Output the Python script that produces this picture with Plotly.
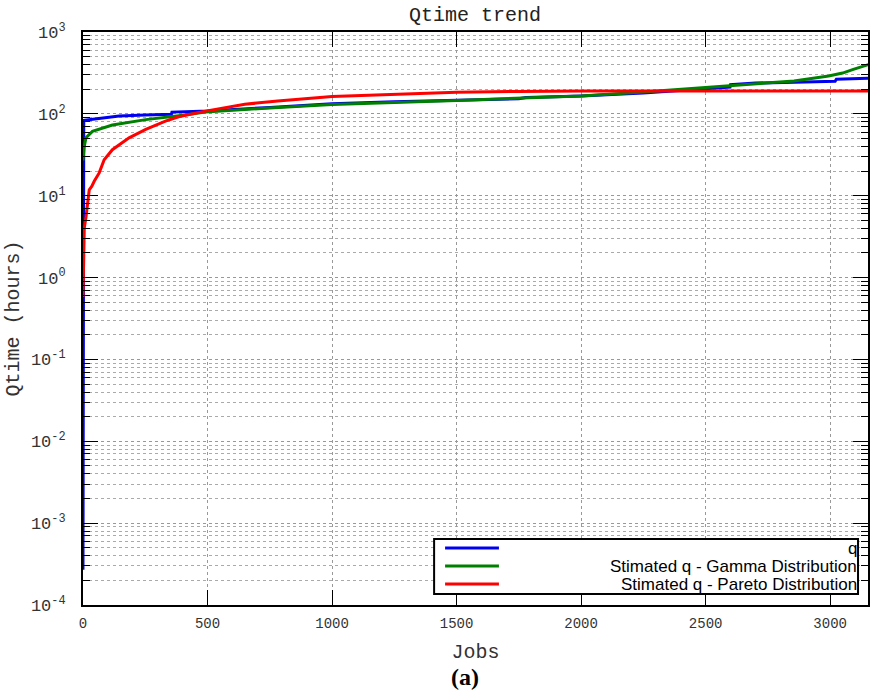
import plotly.graph_objects as go

# ---------------- data ----------------
q_jobs = [0, 1, 3, 15, 40, 80, 145, 250, 355, 357, 500, 750, 1000, 1250, 1500,
          1750, 1778, 2000, 2250, 2450, 2598, 2600, 2700, 2900, 3020, 3025, 3155]
q_vals = [2.7e-4, 1.0, 83, 84, 86, 90, 94, 97, 99, 105, 108, 120, 133, 141, 148,
          153, 158, 165, 180, 200, 212, 228, 238, 245, 250, 265, 272]

gamma_jobs = [0, 5, 12, 38, 118, 252, 384, 492, 750, 1000, 1500, 2000, 2250, 2450,
              2650, 2855, 2994, 3050, 3093, 3130, 3155]
gamma_vals = [27, 40, 51, 61, 73, 85, 95, 105, 118, 130, 146, 165, 185, 205,
              225, 252, 290, 315, 350, 380, 400]

pareto_jobs = [0, 1, 2, 5, 12, 25, 35, 45, 65, 85, 118, 185, 252, 331, 384, 492,
               650, 782, 1000, 1250, 1500, 1750, 2000, 2500, 3000, 3155]
pareto_vals = [0.58, 1.5, 2.4, 4, 5.5, 11.8, 13, 15, 19, 27.5, 36.5, 51, 64.6, 81.5,
               92, 108, 131, 144, 163, 175, 184, 188, 190, 190, 190, 190]

series_names = ["q", "Stimated q - Gamma Distribution", "Stimated q - Pareto Distribution"]
series_colors = ["#0000f0", "#008000", "#ff0000"]

x_ticks = [0, 500, 1000, 1500, 2000, 2500, 3000]
y_decades = [-4, -3, -2, -1, 0, 1, 2, 3]

# ---------------- figure ----------------
fig = go.Figure()
for xs, ys, name, col in zip([q_jobs, gamma_jobs, pareto_jobs],
                             [q_vals, gamma_vals, pareto_vals],
                             series_names, series_colors):
    fig.add_trace(go.Scatter(x=xs, y=ys, mode="lines", name=name,
                             line=dict(color=col, width=3), showlegend=False))

L, R, T, B = 83, 870, 32, 605
W, H = R - L, B - T
def px(x):
    return (x - L) / W
def py(y):
    return (B - y) / H

mono = "Liberation Mono"
minor_vals = [m * 10 ** d for d in y_decades[:-1] for m in range(2, 10)]

fig.update_layout(
    width=870, height=690,
    margin=dict(l=L, r=870 - R, t=T, b=690 - B),
    paper_bgcolor="white", plot_bgcolor="white",
    title=dict(text="Qtime trend", x=px(476), xref="paper", xanchor="center",
               y=1 - 14 / 690, yref="container", yanchor="middle",
               font=dict(family=mono, size=20, color="#222")),
    xaxis=dict(range=[0, 3152], tickvals=x_ticks, ticktext=[str(v) for v in x_ticks],
               ticks="inside", ticklen=15, tickwidth=1, tickcolor="black",
               showline=True, linecolor="black", linewidth=2, mirror="allticks",
               showgrid=True, gridcolor="#999", griddash="dot", gridwidth=1,
               zeroline=False, ticklabelstandoff=4,
               tickfont=dict(family=mono, size=14, color="#333"),
               title=dict(text="Jobs", standoff=13,
                          font=dict(family=mono, size=20, color="#333"))),
    yaxis=dict(type="log", range=[-4, 3],
               tickvals=[10 ** d for d in y_decades],
               ticktext=["10<sup>%d</sup>" % d for d in y_decades],
               ticks="inside", ticklen=15, tickwidth=1, tickcolor="black",
               showline=True, linecolor="black", linewidth=2, mirror="allticks",
               showgrid=True, gridcolor="#999", griddash="dot", gridwidth=1,
               zeroline=False, ticklabelstandoff=12,
               minor=dict(tickmode="array", tickvals=minor_vals, ticks="inside",
                          ticklen=7, tickcolor="black", showgrid=True,
                          gridcolor="#aaa", griddash="dot", gridwidth=1),
               tickfont=dict(family=mono, size=17, color="#333"),
               title=dict(text="Qtime (hours)", standoff=6,
                          font=dict(family=mono, size=20, color="#333"))),
)

# ---------------- legend (right-aligned text like the original) ----------------
fig.add_shape(type="rect", xref="paper", yref="paper",
              x0=px(435), x1=px(860), y0=py(594), y1=py(539),
              line=dict(color="black", width=2), fillcolor="white", layer="above")
for i, (name, col) in enumerate(zip(series_names, series_colors)):
    yy = py(548 + 18 * i)
    fig.add_shape(type="line", xref="paper", yref="paper",
                  x0=px(446), x1=px(500), y0=yy, y1=yy,
                  line=dict(color=col, width=3), layer="above")
    fig.add_annotation(text=name, xref="paper", yref="paper", x=px(861), y=yy,
                       xanchor="right", yanchor="middle", showarrow=False,
                       font=dict(family="Liberation Sans", size=17, color="black"))

fig.add_annotation(text="<b>(a)</b>", xref="paper", yref="paper",
                   x=px(466), y=py(677), xanchor="center", yanchor="middle",
                   showarrow=False,
                   font=dict(family="Liberation Serif", size=24, color="black"))

fig.write_html("out.html")
